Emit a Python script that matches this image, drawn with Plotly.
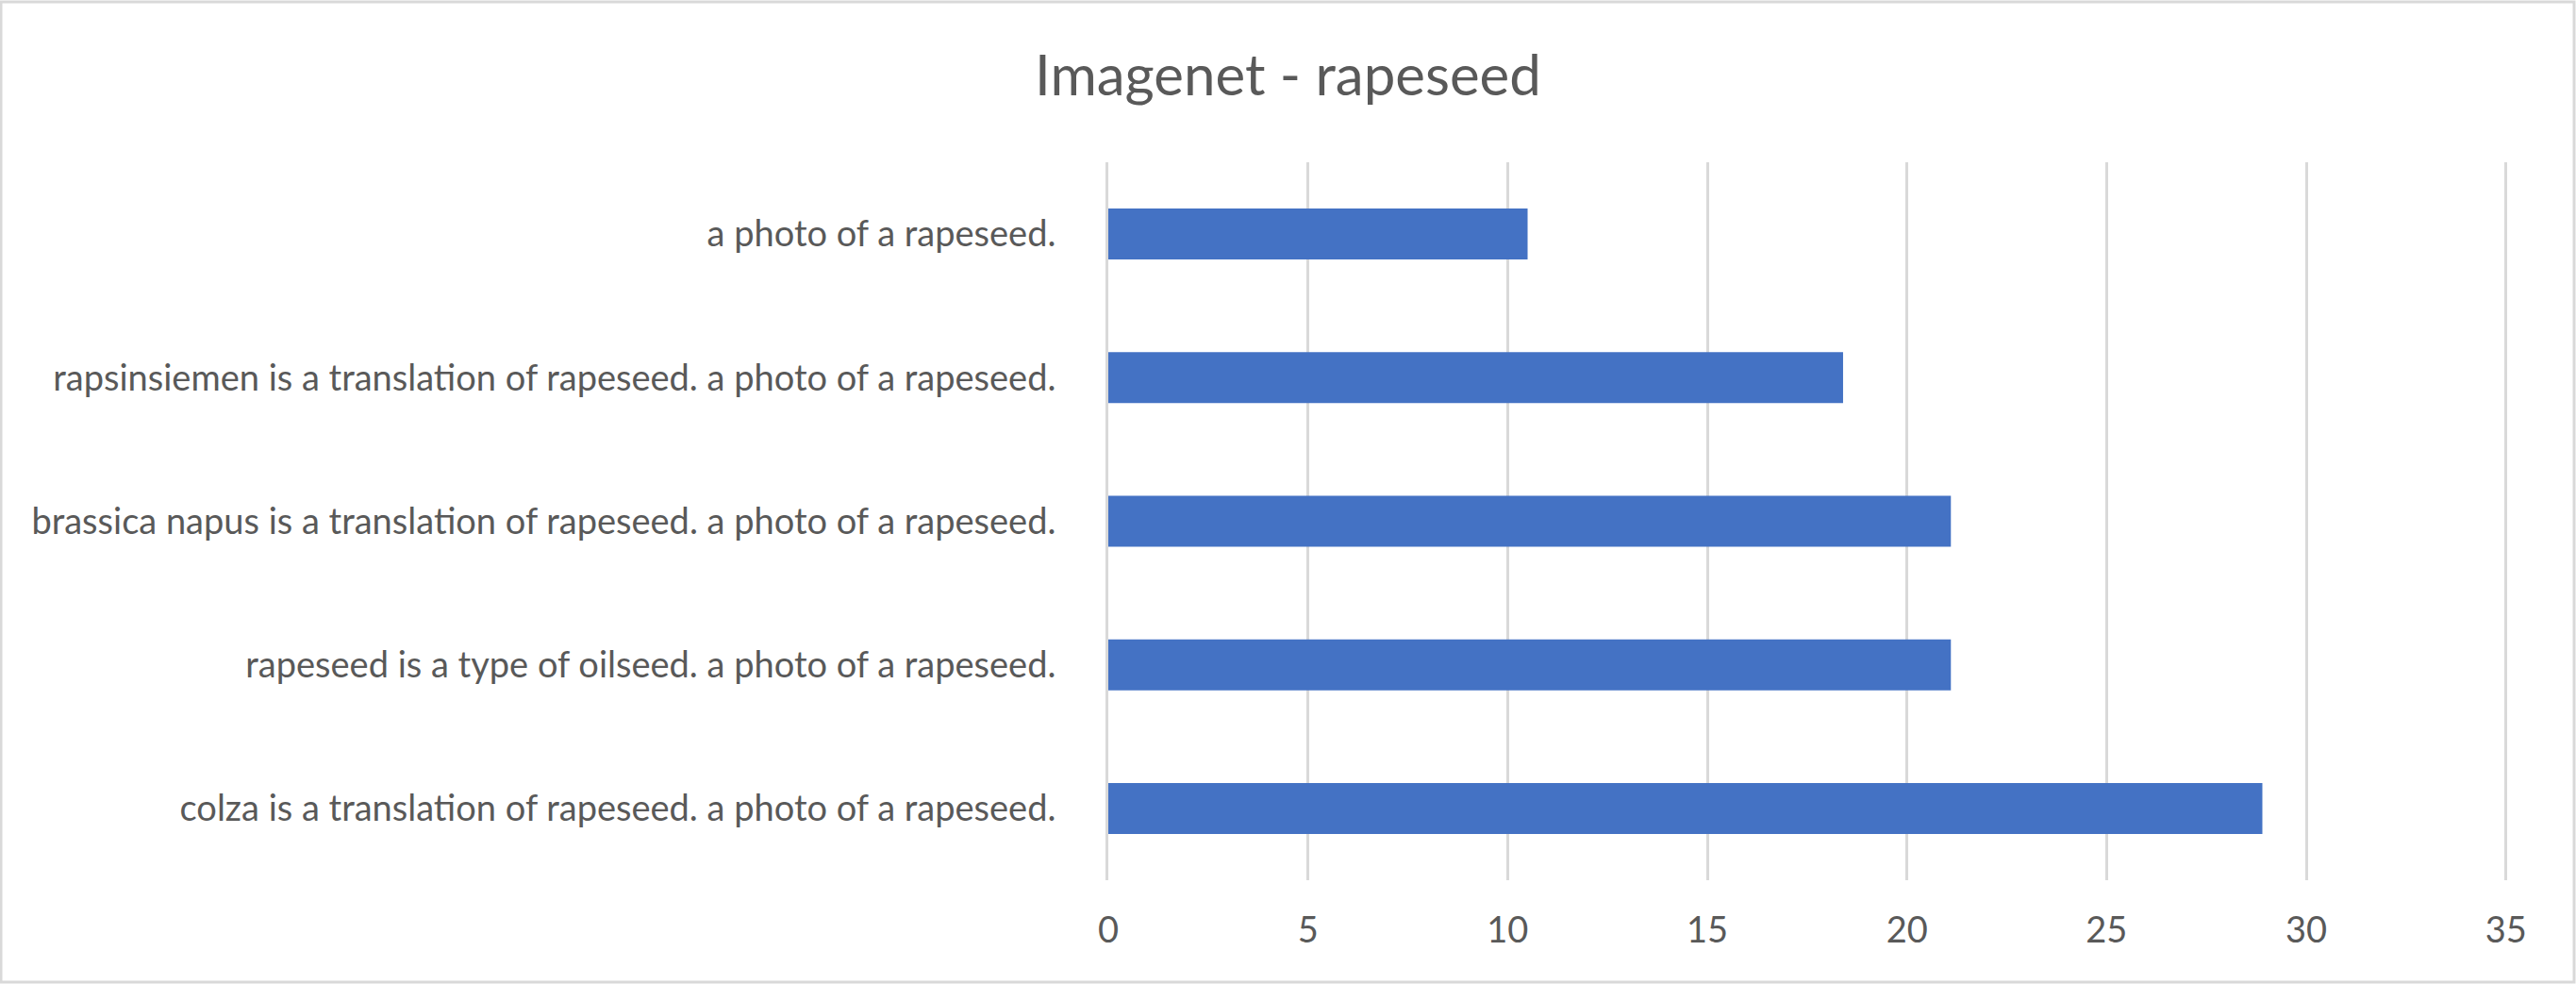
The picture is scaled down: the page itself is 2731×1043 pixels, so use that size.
import plotly.graph_objects as go

# Data (top to bottom as shown)
categories = [
    "a photo of a rapeseed.",
    "rapsinsiemen is a translation of rapeseed. a photo of a rapeseed.",
    "brassica napus is a translation of rapeseed. a photo of a rapeseed.",
    "rapeseed is a type of oilseed. a photo of a rapeseed.",
    "colza is a translation of rapeseed. a photo of a rapeseed.",
]
values = [10.5, 18.4, 21.1, 21.1, 28.9]
x_ticks = [0, 5, 10, 15, 20, 25, 30, 35]
title_text = "Imagenet - rapeseed"

W, H = 2731, 1043
ML, MR, MT, MB = 1175, 73, 172, 110
PW = W - ML - MR
PH = H - MT - MB

FONT = "Lato"
GREY = "#595959"
GRID = "#d9d9d9"

fig = go.Figure(
    go.Bar(
        x=values,
        y=categories,
        orientation="h",
        marker=dict(color="#4472C4", line=dict(width=0)),
        hoverinfo="x+y",
    )
)

fig.update_layout(
    width=W,
    height=H,
    margin=dict(l=ML, r=MR, t=MT, b=MB, pad=0),
    paper_bgcolor="white",
    plot_bgcolor="white",
    bargap=0.645,
    showlegend=False,
    title=dict(
        text=title_text,
        x=0.5,
        xanchor="center",
        xref="container",
        yref="container",
        y=1 - 80 / H,
        yanchor="middle",
        font=dict(family=FONT, size=60, color=GREY),
    ),
    xaxis=dict(
        range=[0, 35.03],
        tickvals=x_ticks,
        ticktext=[str(v) for v in x_ticks],
        showgrid=True,
        gridcolor=GRID,
        gridwidth=3,
        zeroline=False,
        showline=False,
        ticks="",
        ticklabelstandoff=27,
        tickfont=dict(family=FONT, size=38, color=GREY),
        fixedrange=True,
    ),
    yaxis=dict(
        autorange="reversed",
        showgrid=False,
        zeroline=False,
        showline=True,
        linecolor=GRID,
        linewidth=3,
        ticks="",
        ticklabelstandoff=45,
        tickfont=dict(family=FONT, size=38, color=GREY),
        fixedrange=True,
    ),
    shapes=[
        dict(
            type="rect",
            xref="paper",
            yref="paper",
            x0=(1 - ML) / PW,
            x1=(W - 2 - ML) / PW,
            y0=-(MB - 2) / PH,
            y1=1 + (MT - 2) / PH,
            line=dict(color=GRID, width=3),
            fillcolor="rgba(0,0,0,0)",
            layer="below",
        )
    ],
)

fig.write_html(
    "out.html",
    config={"displayModeBar": False},
    post_script="document.body.style.margin='0';document.body.style.padding='0';document.body.style.overflow='hidden';",
)
